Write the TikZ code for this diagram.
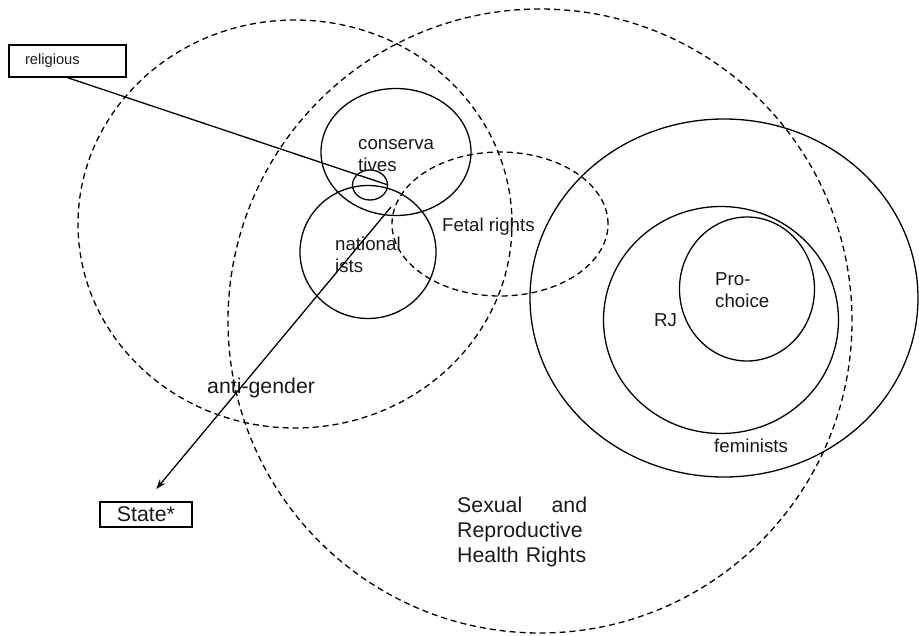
\documentclass[tikz,border=0pt]{standalone}
\usepackage{fontspec}
\setmainfont{Liberation Sans}
\usetikzlibrary{shapes.geometric, arrows.meta}

\tikzset{
  cercle/.style={draw, ellipse, inner sep=0pt, line width=1.3pt},
  pointille/.style={cercle, dash pattern=on 6pt off 4pt},
  texte/.style={inner sep=0pt, anchor=base west, align=left, text=black!90, font=\fontsize{18.7}{22}\selectfont},
  grandtexte/.style={texte, font=\fontsize{21.3}{25}\selectfont},
  boite/.style={draw, rectangle, inner sep=0pt, line width=1.3pt, text=black!90}
}

\begin{document}
\begin{tikzpicture}[x=1pt, y=-1pt, >={Stealth[length=10pt, width=7pt]}]
    \useasboundingbox (0,0) rectangle (919,635);

    % Grands cercles en pointillés
    \node[pointille, minimum width=434pt, minimum height=408pt] (antigenre) at (295,224) {};
    \node[pointille, minimum width=624pt, minimum height=624pt] (srhr) at (540,321) {};
    \node[pointille, minimum width=216pt, minimum height=144pt] (foetal) at (500,224) {};

    % Cercles pleins
    \node[cercle, minimum width=150pt, minimum height=127pt] (conservateurs) at (396,152) {};
    \node[cercle, minimum width=136pt, minimum height=133pt] (nationalistes) at (368,252) {};
    \node[cercle, minimum width=35pt, minimum height=30pt] (noyau) at (370,185) {};
    \node[cercle, minimum width=388pt, minimum height=358pt] (feministes) at (724,298) {};
    \node[cercle, minimum width=235pt, minimum height=227pt] (rj) at (721,320) {};
    \node[cercle, minimum width=135pt, minimum height=144pt] (prochoix) at (747,289) {};

    % Textes (base = derniere ligne)
    \node[texte] (conservatxt) at (358,171) {conserva\\tives};
    \node[texte] (nationaltxt) at (335,272) {national\\ists};
    \node[texte] (foetaltxt) at (442,231) {Fetal rights};
    \node[grandtexte] (antigenretxt) at (207,393) {anti-gender};
    \node[texte] (prochoixtxt) at (715,307) {Pro-\\choice};
    \node[texte] (rjtxt) at (654,326) {RJ};
    \node[texte] (femtxt) at (714,452) {feminists};
    \node[grandtexte, text width=130pt] (srhrtxt) at (457,512) {Sexual\hfill and\\Reproductive\\Health Rights};

    % Boites
    \node[boite, minimum width=117pt, minimum height=32pt, font=\fontsize{14.7}{17}\selectfont] (religious) at (67.5,61) {\makebox[85pt][l]{religious}};
    \node[boite, minimum width=92pt, minimum height=25pt, font=\fontsize{21.3}{25}\selectfont] (state) at (146,514.5) {State*};

    % Fleches
    \coordinate (depart) at (391,207);
    \draw[line width=1.3pt] (religious.south) -- (noyau.east);
    \draw[->, line width=1.3pt, shorten >=16pt] (depart) -- (state.north);

\end{tikzpicture}
\end{document}
